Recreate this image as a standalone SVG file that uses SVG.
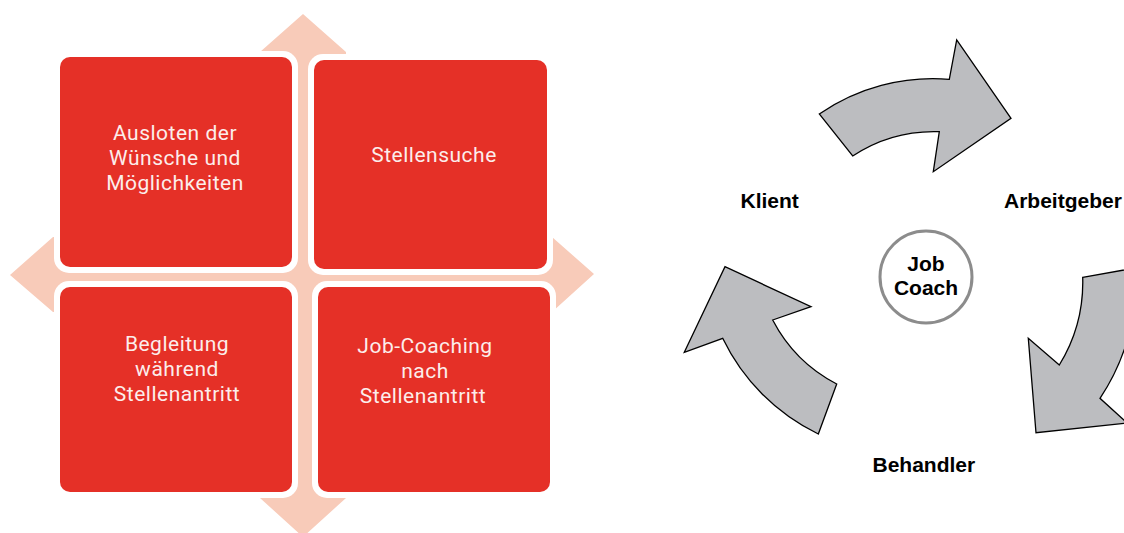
<svg xmlns="http://www.w3.org/2000/svg" width="1124" height="533" viewBox="0 0 1124 533">
  <style>
    .halo { fill: #ffffff; }
    .box { fill: #E53027; }
    .btxt { font-family: Roboto, "Noto Sans", sans-serif; font-size: 21px; letter-spacing: 0.5px; fill: #FCEDEB; text-anchor: middle; }
    .cyc { fill: #BCBDC0; stroke: #000000; stroke-width: 1.3; stroke-linejoin: miter; }
    .lbl { font-family: "Liberation Sans", Arial, sans-serif; font-weight: bold; font-size: 21px; fill: #000000; }
  </style>
  <rect width="1124" height="533" fill="#ffffff"/>

  <!-- Left: matrix with four-way arrow -->
  <g id="quad-arrow">
    <path d="M 303,14 L 346,52 L 346,237 L 552,237 L 594,274 L 552,312 L 346,312 L 346,498 L 303,537 L 260,498 L 260,312 L 53,312 L 10,275 L 53,237 L 260,237 L 260,52 Z" fill="#F8CBB9"/>
  </g>

  <g id="box-ausloten">
    <rect class="halo" x="54" y="51" width="244" height="222" rx="15"/>
    <rect class="box" x="60" y="57" width="232" height="210" rx="10"/>
    <text class="btxt"><tspan x="175" y="140">Ausloten der</tspan><tspan x="175" y="165">Wünsche und</tspan><tspan x="175" y="190">Möglichkeiten</tspan></text>
  </g>

  <g id="box-stellensuche">
    <rect class="halo" x="308" y="54" width="245" height="221" rx="15"/>
    <rect class="box" x="314" y="60" width="233" height="209" rx="10"/>
    <text class="btxt" x="434" y="162">Stellensuche</text>
  </g>

  <g id="box-begleitung">
    <rect class="halo" x="54" y="281" width="244" height="217" rx="15"/>
    <rect class="box" x="60" y="287" width="232" height="205" rx="10"/>
    <text class="btxt"><tspan x="177" y="351">Begleitung</tspan><tspan x="177" y="376">während</tspan><tspan x="177" y="401">Stellenantritt</tspan></text>
  </g>

  <g id="box-jobcoaching">
    <rect class="halo" x="312" y="281" width="244" height="217" rx="15"/>
    <rect class="box" x="318" y="287" width="232" height="205" rx="10"/>
    <text class="btxt"><tspan x="425" y="353">Job-Coaching</tspan><tspan x="425" y="378">nach</tspan><tspan x="423" y="403">Stellenantritt</tspan></text>
  </g>

  <!-- Right: cycle -->
  <g id="connectors">
    <path class="cyc" d="M 819.3,114 A 200 200 0 0 1 949.3,79.3 L 956.7,40 L 1011,118.3 L 933.3,171.7 L 939.3,131.7 A 148 148 0 0 0 852.7,156 Z"/>
    <path class="cyc" d="M 1082.7,277.3 L 1135.5,268 A 211 211 0 0 1 1100,398.3 L 1127.3,423 L 1036,432.7 L 1028.3,338.3 L 1059.3,365 A 158 158 0 0 0 1082.7,277.3 Z"/>
    <path class="cyc" d="M 684.3,352.3 L 725,266.7 L 811,306.7 L 772.7,320 A 150 150 0 0 0 836.7,384 L 818.3,434 A 205 205 0 0 1 722.7,338.3 Z"/>
  </g>

  <g id="node-klient">
    <text class="lbl" x="740.5" y="208">Klient</text>
  </g>
  <g id="node-arbeitgeber">
    <text class="lbl" x="1004" y="208">Arbeitgeber</text>
  </g>
  <g id="node-behandler">
    <text class="lbl" x="872.5" y="472">Behandler</text>
  </g>
  <g id="node-jobcoach">
    <circle cx="926" cy="277" r="46" fill="#ffffff" stroke="#8C8C8C" stroke-width="3"/>
    <text class="lbl" text-anchor="middle"><tspan x="926" y="271">Job</tspan><tspan x="926" y="295">Coach</tspan></text>
  </g>
</svg>
